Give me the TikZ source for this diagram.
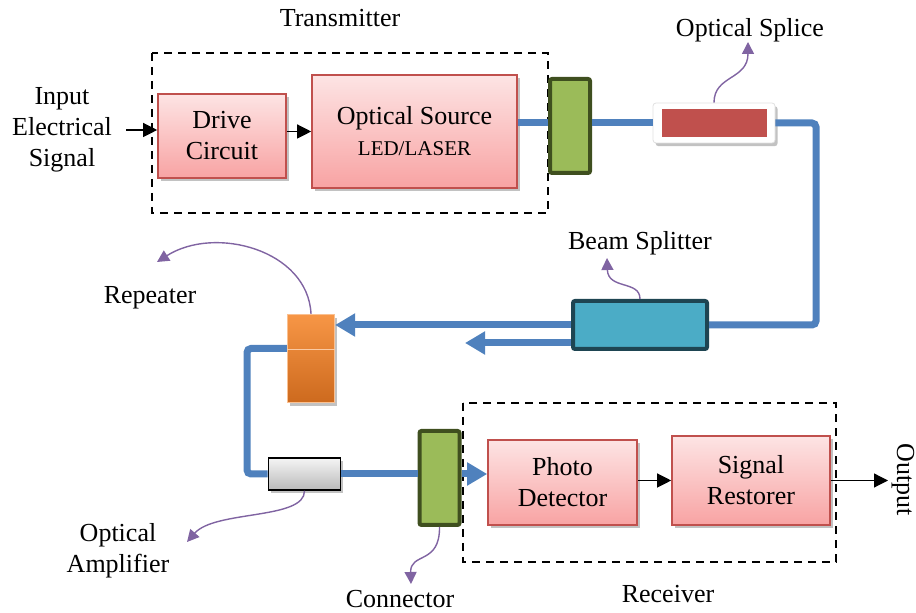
\documentclass[tikz,border=0pt]{standalone}
\usepackage{fontspec}
\setmainfont{Liberation Serif}
\usetikzlibrary{positioning,arrows.meta,shadows}
\definecolor{FiberBlue}{HTML}{4F81BD}
\definecolor{BoxRed}{HTML}{C0504D}
\definecolor{PinkTop}{HTML}{FDE4E4}
\definecolor{PinkBottom}{HTML}{F8A3A3}
\definecolor{OliveFill}{HTML}{9BBB59}
\definecolor{OliveDark}{HTML}{3F4F1F}
\definecolor{TealFill}{HTML}{4BACC6}
\definecolor{TealDark}{HTML}{1E4552}
\definecolor{OrangeTop}{HTML}{F79646}
\definecolor{OrangeBottom}{HTML}{CD6A1E}
\definecolor{PointerPurple}{HTML}{8064A2}

\begin{document}
\begin{tikzpicture}[x=0.5pt,y=-0.5pt,
	font=\fontsize{13}{15.5}\selectfont,
	boxshadow/.style={drop shadow={shadow xshift=1.3pt,shadow yshift=-1.6pt,fill=black!40,opacity=0.6}},
	block/.style={draw=BoxRed, line width=0.8pt, top color=PinkTop, bottom color=PinkBottom, align=center, boxshadow},
	joint/.style={draw=OliveDark, fill=OliveFill, line width=2pt, rounded corners=1pt, minimum width=20pt, minimum height=47pt},
	fiber/.style={draw=FiberBlue, line width=3.5pt, rounded corners=2pt},
	fiberhead/.style={-{Triangle[length=10pt,width=11pt]}},
	signal/.style={-{Triangle[length=7pt,width=7pt]}, line width=0.6pt},
	pointer/.style={draw=PointerPurple, line width=0.7pt, -{Triangle[length=6pt,width=6pt]}},
	groupbox/.style={dashed, dash pattern=on 4pt off 3pt, line width=0.7pt},
	caption/.style={align=center, inner sep=1pt}]
					\pgfmathsetmacro{\BendRight}{816}
					\pgfmathsetmacro{\BendLeft}{247}
					\useasboundingbox (0,0) rectangle (916,613);
					% TRANSMITTER
					\draw[groupbox] (152,53) rectangle (548,213);
					\node[caption] (txLbl) at (340,18) {Transmitter};
					\node[caption] (inputLbl) at (62,130) {Input\\Electrical\\Signal};
					\node[block, minimum width=64pt, minimum height=42pt] (drive) at (222,136) {Drive\\Circuit};
					\node[block, minimum width=102.5pt, minimum height=56.5pt] (source) at (414.5,131.5) {Optical Source\\{\fontsize{10.5}{12}\selectfont LED/LASER}};
					\node[joint] (conA) at (570,126) {};
					\draw[signal] (inputLbl.east -| 126,0) -- (inputLbl.east -| drive.west);
					\draw[signal] (drive.east |- source.west) -- (source.west);
					% SPLICE AND BEAM SPLITTER
					\node[draw=black!12, fill=white, rounded corners=1.5pt, minimum width=61pt, minimum height=20pt, boxshadow] (splice) at (714,123) {};
					\node[fill=BoxRed, minimum width=52.5pt, minimum height=14pt] (spliceCore) at (splice) {};
					\node[caption] (spliceLbl) at (750,30) {Optical Splice};
					\node[draw=TealDark, fill=TealFill, line width=2pt, rounded corners=1pt, minimum width=67pt, minimum height=24pt] (splitter) at (640,325) {};
					\node[caption] (splitLbl) at (640,243) {Beam Splitter};
					\coordinate (bendR) at (\BendRight,325);
					\coordinate (tapOut) at (465,343);
					\draw[fiber] (source.east |- splice) -- (conA.west |- splice);
					\draw[fiber] (conA.east |- splice) -- (splice.west);
					\draw[fiber] (splice.east) -| (bendR) -- (splitter.east);
					\draw[fiber, fiberhead] ([yshift=-9pt]splitter.west) -- (tapOut);
					% REPEATER AND AMPLIFIER
					\node[draw=OrangeTop!60!white, top color=OrangeTop, bottom color=OrangeBottom, line width=0.6pt, minimum width=23.5pt, minimum height=44pt, boxshadow] (repeater) at (311,358.5) {};
					\draw[OrangeTop!50!white, line width=0.4pt] ([yshift=-18pt]repeater.north west) -- ([yshift=-18pt]repeater.north east);
					\node[caption] (repLbl) at (150,298) {Repeater};
					\node[draw=black, line width=0.8pt, top color=black!4, bottom color=black!27, minimum width=36pt, minimum height=16pt, boxshadow] (amp) at (304.5,474) {};
					\node[caption] (ampLbl) at (118,551) {Optical\\Amplifier};
					\coordinate (bendL) at (\BendLeft,474);
					\draw[fiber, fiberhead] (splitter.west) -- (splitter.west -| repeater.east);
					\draw[fiber] ([yshift=5pt]repeater.west) -| (bendL) -- (amp.west);
					% RECEIVER
					\draw[groupbox] (463,403) rectangle (836,562);
					\node[caption] (rxLbl) at (668,594) {Receiver};
					\node[joint] (conB) at (439.5,478) {};
					\node[caption] (conLbl) at (400,599) {Connector};
					\node[block, minimum width=74.5pt, minimum height=42.5pt] (detector) at (562.5,482.5) {Photo\\Detector};
					\node[block, minimum width=79pt, minimum height=44.5pt] (restorer) at (751,480.5) {Signal\\Restorer};
					\node[caption, rotate=-90] (outLbl) at (903,480) {Output};
					\coordinate (outEnd) at (888,480.5);
					\draw[fiber] (amp.east) -- (amp.east -| conB.west);
					\draw[fiber, fiberhead] (amp.east -| conB.east) -- (amp.east -| detector.west);
					\draw[signal] (detector.east |- restorer) -- (restorer.west);
					\draw[signal] (restorer.east) -- (outEnd);
					% POINTERS
					\coordinate (spliceTip) at (748,42);
					\coordinate (splitTip) at (607,258);
					\coordinate (repTip) at (157,262);
					\coordinate (ampTip) at (187,542);
					\coordinate (conTip) at (411,584);
					\draw[pointer] (splice.north) .. controls (714,75) and (748,80) .. (spliceTip);
					\draw[pointer] (splitter.north) .. controls (640,280) and (608,290) .. (splitTip);
					\draw[pointer] (repeater.north) .. controls (308,250) and (215,225) .. (repTip);
					\draw[pointer] (amp.south) .. controls (305,520) and (215,510) .. (ampTip);
					\draw[pointer] (conB.south) .. controls (440,565) and (410,552) .. (conTip);
				\end{tikzpicture}
\end{document}
